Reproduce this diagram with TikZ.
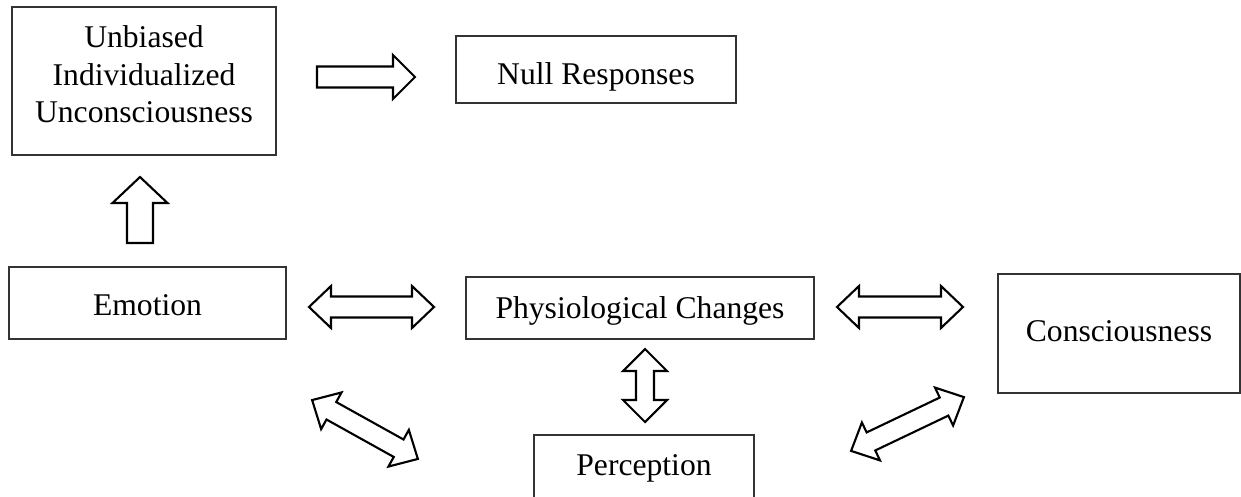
\documentclass[tikz,border=0pt]{standalone}
\usepackage{fontspec}
\setmainfont{Liberation Serif}
\begin{document}
\begin{tikzpicture}[x=0.02cm, y=-0.02cm, line join=miter,
	box/.style={draw=black!80, line width=0.7pt, inner sep=0pt, align=center, text depth=4pt, font=\fontsize{18}{21.3}\selectfont},
	blk/.style={draw, line width=1.2pt, fill=white},
	pics/sgl/.style n args={4}{code={\draw[blk] (-#1,#3) -- (#1-#2,#3) -- (#1-#2,#4) -- (#1,0) -- (#1-#2,-#4) -- (#1-#2,-#3) -- (-#1,-#3) -- cycle;}},
	pics/dbl/.style n args={3}{code={\draw[blk] (-#1,0) -- (-#1+22,#3) -- (-#1+22,#2) -- (#1-22,#2) -- (#1-22,#3) -- (#1,0) -- (#1-22,-#3) -- (#1-22,-#2) -- (-#1+22,-#2) -- (-#1+22,-#3) -- cycle;}}]
	\useasboundingbox (0,0) rectangle (1241,497);
	\node[box, minimum width=264*0.02cm, minimum height=148*0.02cm, text height=47.6pt, text depth=0pt] (unc) at (144,81) {Unbiased\\Individualized\\Unconsciousness};
	\node[box, minimum width=280*0.02cm, minimum height=67*0.02cm, text height=21.4pt] (null) at (596,69.5) {Null Responses};
	\node[box, minimum width=277*0.02cm, minimum height=72*0.02cm, text height=18.6pt] (emo) at (147.5,303) {Emotion};
	\node[box, minimum width=348*0.02cm, minimum height=62*0.02cm, text height=16.4pt] (phys) at (640,308) {Physiological Changes};
	\node[box, minimum width=242*0.02cm, minimum height=119*0.02cm, text height=13.6pt] (cons) at (1119,333.5) {Consciousness};
	\node[box, minimum width=220*0.02cm, minimum height=65*0.02cm, text height=13pt] (perc) at (644,467.5) {Perception};
	% block arrows
	\pic at (366,77) {sgl={49}{22}{10.5}{22}};
	\pic[rotate=90] at (140,210) {sgl={33}{26}{13}{27.5}};
	\pic at (371.5,307) {dbl={62.5}{10.5}{21}};
	\pic at (900,307) {dbl={63}{10.5}{21}};
	\pic[rotate=90] at (645,385.5) {dbl={36.5}{9}{22}};
	\pic[rotate=-29.1] at (365,429.5) {dbl={60.5}{10}{21}};
	\pic[rotate=25.5] at (907.5,424) {dbl={62.5}{10}{21}};
\end{tikzpicture}
\end{document}
